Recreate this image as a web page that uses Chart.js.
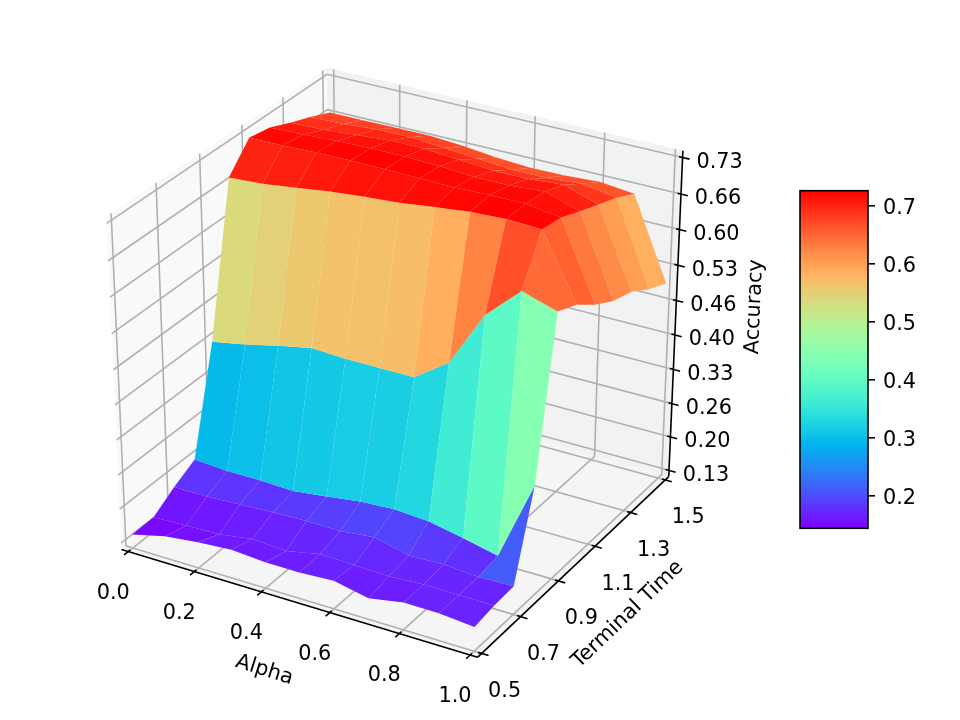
<!DOCTYPE html>
<html>
<head>
<meta charset="utf-8">
<title>Accuracy surface</title>
<script src="https://cdn.jsdelivr.net/npm/chart.js@4"></script>
<style>
    body { margin: 0; background: #fff; }
    #wrap { position: relative; width: 960px; height: 720px; overflow: hidden; }
    #surface { position: absolute; left: 0; top: 0; }
    #colorbar { position: absolute; left: 790px; top: 170px; }
</style>
</head>
<body>
<div id="wrap">
    <canvas id="surface" width="960" height="720"></canvas>
    <canvas id="colorbar" width="170" height="380"></canvas>
</div>
<script>
const alphas = [0, 0.1, 0.2, 0.3, 0.4, 0.5, 0.6, 0.7, 0.8, 0.9, 1.0];
const terminalTimes = [0.5, 0.6, 0.7, 0.8, 0.9, 1.0, 1.1, 1.2, 1.3, 1.4, 1.5];

// accuracy per terminal time, one value per alpha
const accT05 = [0.144, 0.160, 0.168, 0.173, 0.168, 0.168, 0.172, 0.158, 0.170, 0.170, 0.164];
const accT06 = [0.145, 0.148, 0.150, 0.160, 0.156, 0.170, 0.168, 0.166, 0.170, 0.170, 0.170];
const accT07 = [0.172, 0.172, 0.175, 0.179, 0.181, 0.181, 0.188, 0.172, 0.175, 0.170, 0.172];
const accT08 = [0.194, 0.190, 0.190, 0.188, 0.196, 0.205, 0.209, 0.205, 0.192, 0.177, 0.330];
const accT09 = [0.393, 0.405, 0.420, 0.433, 0.430, 0.430, 0.430, 0.475, 0.580, 0.640, 0.620];
const accT10 = [0.675, 0.679, 0.687, 0.696, 0.702, 0.707, 0.715, 0.722, 0.725, 0.722, 0.603];
const accT11 = [0.722, 0.723, 0.725, 0.726, 0.725, 0.724, 0.723, 0.725, 0.725, 0.716, 0.574];
const accT12 = [0.715, 0.717, 0.720, 0.722, 0.722, 0.720, 0.715, 0.715, 0.720, 0.700, 0.552];
const accT13 = [0.698, 0.700, 0.705, 0.710, 0.710, 0.705, 0.700, 0.700, 0.705, 0.685, 0.540];
const accT14 = [0.683, 0.685, 0.690, 0.690, 0.685, 0.680, 0.675, 0.675, 0.680, 0.670, 0.516];
const accT15 = [0.666, 0.666, 0.667, 0.667, 0.663, 0.656, 0.652, 0.653, 0.657, 0.650, 0.498];
const accuracy = [accT05, accT06, accT07, accT08, accT09, accT10, accT11, accT12, accT13, accT14, accT15];

const alphaTicks = [0, 0.2, 0.4, 0.6, 0.8, 1.0];
const timeTicks = [0.5, 0.7, 0.9, 1.1, 1.3, 1.5];
const accuracyTicks = [0.13, 0.197, 0.263, 0.33, 0.397, 0.463, 0.53, 0.597, 0.663, 0.73];
const colorbarTicks = [0.2, 0.3, 0.4, 0.5, 0.6, 0.7];

const zLimits = [0.13, 0.73];
const colorLimits = [0.144, 0.726];

// pane margin around the unit box, as mplot3d does it
const margin = 1 / 48;
const fontFamily = '"DejaVu Sans"';
const tickFontSize = 20.8;

// rainbow colormap
function rainbow(value) {
    const t = Math.min(1, Math.max(0, (value - colorLimits[0]) / (colorLimits[1] - colorLimits[0])));
    const r = Math.min(1, Math.abs(2 * t - 0.5));
    const g = Math.sin(t * Math.PI);
    const b = Math.cos(t * Math.PI / 2);
    return `rgb(${Math.round(r * 255)}, ${Math.round(g * 255)}, ${Math.round(b * 255)})`;
}

// perspective camera at elev 30, azim -60, distance 10 looking at the box center
function project(ux, uy, uz) {
    const X = ux - 0.5, Y = uy - 0.5, Z = uz - 0.5;
    const sinE = 0.5, cosE = Math.sqrt(3) / 2;
    const sinA = -Math.sqrt(3) / 2, cosA = 0.5;
    const vx = -sinA * X + cosA * Y;
    const vy = -cosA * sinE * X - sinA * sinE * Y + cosE * Z;
    const depth = 10 - cosE * cosA * X - cosE * sinA * Y - sinE * Z;
    return { x: vx / depth, y: vy / depth, depth: depth };
}

const unitX = v => v;
const unitY = v => v - 0.5;
const unitZ = v => (v - zLimits[0]) / (zLimits[1] - zLimits[0]);

function polygonLayer(corners, color) {
    return {
        polygon: true,
        data: corners.map(c => ({ x: c.x, y: c.y })),
        backgroundColor: color,
        pointRadius: 0,
        showLine: false,
        clip: false
    };
}

function lineLayer(points, color, width) {
    return {
        data: points.map(p => { const q = project(p[0], p[1], p[2]); return { x: q.x, y: q.y }; }),
        showLine: true,
        borderColor: color,
        borderWidth: width,
        pointRadius: 0,
        fill: false,
        clip: false
    };
}

function buildPanes() {
    const lo = -margin, hi = 1 + margin;
    const quad = pts => pts.map(p => project(p[0], p[1], p[2]));
    return [
        polygonLayer(quad([[lo, lo, lo], [lo, hi, lo], [lo, hi, hi], [lo, lo, hi]]), '#f9f9f9'),
        polygonLayer(quad([[lo, hi, lo], [hi, hi, lo], [hi, hi, hi], [lo, hi, hi]]), '#f2f2f2'),
        polygonLayer(quad([[lo, lo, lo], [hi, lo, lo], [hi, hi, lo], [lo, hi, lo]]), '#f5f5f5')
    ];
}

function buildGrid() {
    const lo = -margin, hi = 1 + margin;
    const grey = '#b0b0b0', w = 1.6;
    const layers = [];
    alphaTicks.forEach(a => {
        const u = unitX(a);
        layers.push(lineLayer([[u, lo, lo], [u, hi, lo], [u, hi, hi]], grey, w));
    });
    timeTicks.forEach(t => {
        const u = unitY(t);
        layers.push(lineLayer([[hi, u, lo], [lo, u, lo], [lo, u, hi]], grey, w));
    });
    accuracyTicks.forEach(v => {
        const u = unitZ(v);
        layers.push(lineLayer([[lo, lo, u], [lo, hi, u], [hi, hi, u]], grey, w));
    });
    return layers;
}

function buildAxes() {
    const lo = -margin, hi = 1 + margin;
    const outward = 0.0196, inward = 0.0098;
    const layers = [
        lineLayer([[lo, lo, lo], [hi, lo, lo]], '#000', 1.6),
        lineLayer([[hi, lo, lo], [hi, hi, lo]], '#000', 1.6),
        lineLayer([[hi, hi, lo], [hi, hi, hi]], '#000', 1.6)
    ];
    alphaTicks.forEach(a => {
        const u = unitX(a);
        layers.push(lineLayer([[u, lo - outward, lo], [u, lo + inward, lo]], '#000', 1.6));
    });
    timeTicks.forEach(t => {
        const u = unitY(t);
        layers.push(lineLayer([[hi - inward, u, lo], [hi + outward, u, lo]], '#000', 1.6));
    });
    accuracyTicks.forEach(v => {
        const u = unitZ(v);
        layers.push(lineLayer([[hi - inward, hi, u], [hi + outward, hi, u]], '#000', 1.6));
    });
    return layers;
}

// one quad per grid cell, colored by mean height, painted far to near
function buildFacets() {
    const cells = [];
    for (let j = 0; j < terminalTimes.length - 1; j++) {
        for (let i = 0; i < alphas.length - 1; i++) {
            const ids = [[i, j], [i + 1, j], [i + 1, j + 1], [i, j + 1]];
            const corners = ids.map(([a, b]) =>
                project(unitX(alphas[a]), unitY(terminalTimes[b]), unitZ(accuracy[b][a])));
            const mean = ids.reduce((s, [a, b]) => s + accuracy[b][a], 0) / 4;
            const depth = corners.reduce((s, c) => s + c.depth, 0) / 4;
            cells.push({ corners, mean, depth });
        }
    }
    cells.sort((a, b) => b.depth - a.depth);
    return cells.map(c => polygonLayer(c.corners, rainbow(c.mean)));
}

// fills the polygon datasets from their parsed elements
const polygonFill = {
    id: 'polygonFill',
    beforeDatasetDraw(chart, args) {
        const ds = chart.data.datasets[args.index];
        if (!ds.polygon) return;
        const pts = args.meta.data;
        const ctx = chart.ctx;
        ctx.save();
        ctx.beginPath();
        pts.forEach((p, k) => { if (k === 0) ctx.moveTo(p.x, p.y); else ctx.lineTo(p.x, p.y); });
        ctx.closePath();
        ctx.fillStyle = ds.backgroundColor;
        ctx.fill();
        ctx.restore();
        return false;
    }
};

const axisText = {
    id: 'axisText',
    afterDraw(chart) {
        const ctx = chart.ctx;
        const sx = chart.scales.x, sy = chart.scales.y;
        const lo = -margin, hi = 1 + margin;
        const put = (text, p, dx, dy, angle) => {
            const q = project(p[0], p[1], p[2]);
            ctx.save();
            ctx.translate(sx.getPixelForValue(q.x) + dx, sy.getPixelForValue(q.y) + dy);
            ctx.rotate((angle || 0) * Math.PI / 180);
            ctx.fillText(text, 0, 0);
            ctx.restore();
        };
        ctx.save();
        ctx.fillStyle = '#000';
        ctx.font = `${tickFontSize}px ${fontFamily}`;
        ctx.textAlign = 'center';
        ctx.textBaseline = 'middle';
        alphaTicks.forEach(a => put(a.toFixed(1), [unitX(a), lo, lo], -15, 42));
        timeTicks.forEach(t => put(t.toFixed(1), [hi, unitY(t), lo], 23, 38));
        accuracyTicks.forEach(v => put(v.toFixed(2), [hi, hi, unitZ(v)], 37, 5));
        put('Alpha', [0.5, lo, lo], -31, 68, 17.5);
        put('Terminal Time', [hi, 0.5, lo], 51, 51, -43.7);
        put('Accuracy', [hi, hi, 0.5], 79, -11, -87.5);
        ctx.restore();
    }
};

const layers = [...buildPanes(), ...buildGrid(), ...buildAxes(), ...buildFacets()];

new Chart(document.getElementById('surface'), {
    type: 'scatter',
    // chart.js paints the first dataset last
    data: { datasets: layers.reverse() },
    plugins: [polygonFill, axisText],
    options: {
        responsive: false,
        animation: false,
        events: [],
        layout: { padding: 0 },
        plugins: { legend: { display: false }, tooltip: { enabled: false } },
        scales: {
            x: { type: 'linear', min: -0.10127, max: 0.14208, display: false },
            y: { type: 'linear', min: -0.10082, max: 0.09644, display: false }
        }
    }
});

function colorbarFill(context) {
    const chart = context.chart;
    if (!chart.chartArea) return '#000';
    const top = chart.scales.y.getPixelForValue(colorLimits[1]);
    const bottom = chart.scales.y.getPixelForValue(colorLimits[0]);
    const gradient = chart.ctx.createLinearGradient(0, bottom, 0, top);
    for (let k = 0; k <= 64; k++) {
        gradient.addColorStop(k / 64, rainbow(colorLimits[0] + (colorLimits[1] - colorLimits[0]) * k / 64));
    }
    return gradient;
}

// frame and tick marks of the colorbar
const colorbarFrame = {
    id: 'colorbarFrame',
    afterDraw(chart) {
        const { ctx, chartArea } = chart;
        const y = chart.scales.y;
        ctx.save();
        ctx.strokeStyle = '#000';
        ctx.lineWidth = 1.6;
        ctx.strokeRect(chartArea.left, chartArea.top, chartArea.right - chartArea.left, chartArea.bottom - chartArea.top);
        colorbarTicks.forEach(v => {
            const py = y.getPixelForValue(v);
            ctx.beginPath();
            ctx.moveTo(chartArea.right, py);
            ctx.lineTo(chartArea.right + 7, py);
            ctx.stroke();
        });
        ctx.restore();
    }
};

new Chart(document.getElementById('colorbar'), {
    type: 'bar',
    data: {
        labels: ['Accuracy'],
        datasets: [{
            data: [colorLimits],
            backgroundColor: colorbarFill,
            borderWidth: 0,
            barPercentage: 1,
            categoryPercentage: 1
        }]
    },
    plugins: [colorbarFrame],
    options: {
        responsive: false,
        animation: false,
        events: [],
        layout: { padding: { left: 10, top: 20.7, bottom: 21.7, right: 0 } },
        plugins: { legend: { display: false }, tooltip: { enabled: false } },
        scales: {
            x: { display: false },
            y: {
                position: 'right',
                min: colorLimits[0],
                max: colorLimits[1],
                afterBuildTicks: scale => { scale.ticks = colorbarTicks.map(v => ({ value: v })); },
                afterFit: scale => { scale.width = 92; },
                border: { display: false },
                grid: { display: false, tickLength: 7 },
                ticks: {
                    color: '#000',
                    padding: 8,
                    labelOffset: 3,
                    font: { family: 'DejaVu Sans', size: tickFontSize },
                    callback: v => v.toFixed(1)
                }
            }
        }
    }
});
</script>
</body>
</html>
